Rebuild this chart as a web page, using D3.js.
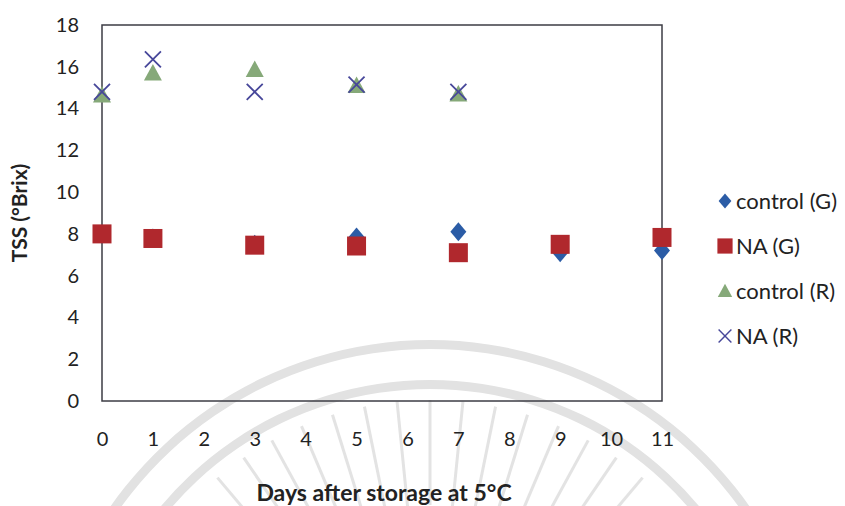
<!DOCTYPE html>
<html>
<head>
<meta charset="utf-8">
<script src="https://cdn.jsdelivr.net/npm/d3@7"></script>
<style>
  body { margin: 0; background: #fff; }
  text { font-family: Lato, "Open Sans", sans-serif; fill: #222; }
</style>
</head>
<body>
<svg id="chart"></svg>
<script>
const days = [0, 1, 3, 5, 7, 9, 11]
const daysR = [0, 1, 3, 5, 7]
const controlG = [8.0, 7.8, 7.5, 7.85, 8.1, 7.1, 7.2]
const naG = [8.0, 7.78, 7.46, 7.42, 7.1, 7.5, 7.83]
const controlR = [14.65, 15.7, 15.87, 15.1, 14.7]
const naR = [14.8, 16.35, 14.8, 15.15, 14.8]
const xTicks = d3.range(0, 12)
const yTicks = d3.range(0, 19, 2)

const series = [
  { name: "control (G)", x: days, y: controlG, shape: "diamond", color: "#2b5ca6" },
  { name: "NA (G)", x: days, y: naG, shape: "square", color: "#b0282d" },
  { name: "control (R)", x: daysR, y: controlR, shape: "triangle", color: "#86a979" },
  { name: "NA (R)", x: daysR, y: naR, shape: "cross", color: "#47479a" }
]

const width = 845, height = 506
const svg = d3.select("#chart").attr("width", width).attr("height", height)

// faint watermark arcs behind the chart
const wm = svg.append("g").attr("fill", "none").attr("stroke", "#e3e3e3")
;[390, 350].forEach(r => {
  wm.append("path")
    .attr("d", d3.arc()({ innerRadius: r - 9, outerRadius: r, startAngle: -1.2, endAngle: 1.2 }))
    .attr("transform", "translate(430,730)")
    .attr("fill", "#e2e2e2").attr("stroke", "none")
})
d3.range(-0.7, 0.71, 0.1).forEach(a => {
  wm.append("line")
    .attr("x1", 430 + Math.sin(a) * 225).attr("y1", 730 - Math.cos(a) * 225)
    .attr("x2", 430 + Math.sin(a) * 330).attr("y2", 730 - Math.cos(a) * 330)
    .attr("stroke-width", 3)
})

const x = d3.scaleLinear().domain([0, 11]).range([102, 662])
const y = d3.scaleLinear().domain([0, 18]).range([401, 25])

// plot box
svg.append("rect")
  .attr("x", x(0)).attr("y", y(18))
  .attr("width", x(11) - x(0)).attr("height", y(0) - y(18))
  .attr("fill", "none").attr("stroke", "#3c3c44").attr("stroke-width", 1.5)

const yAxis = svg.append("g")
  .attr("transform", `translate(${x(0)},0)`)
  .call(d3.axisLeft(y).tickValues(yTicks).tickSize(0).tickPadding(23))
yAxis.select(".domain").remove()
yAxis.selectAll("text").style("font-size", "20px").attr("fill", "#222")

const xAxis = svg.append("g")
  .attr("transform", `translate(0,${y(0)})`)
  .call(d3.axisBottom(x).tickValues(xTicks).tickSize(0).tickPadding(31))
xAxis.select(".domain").remove()
xAxis.selectAll("text").style("font-size", "20px").attr("fill", "#222")

svg.append("text")
  .attr("transform", `translate(27,${(y(0) + y(18)) / 2}) rotate(-90)`)
  .attr("text-anchor", "middle")
  .style("font-size", "21px").style("font-weight", "bold")
  .text("TSS (°Brix)")

svg.append("text")
  .attr("x", 384).attr("y", 501)
  .attr("text-anchor", "middle")
  .style("font-size", "23px").style("font-weight", "bold")
  .text("Days after storage at 5°C")

function drawMarker(g, shape, color) {
  if (shape === "diamond") {
    g.append("path").attr("d", "M0,-9.5L8,0L0,9.5L-8,0Z").attr("fill", color)
  } else if (shape === "square") {
    g.append("rect").attr("x", -9.5).attr("y", -9.5).attr("width", 19).attr("height", 19).attr("fill", color)
  } else if (shape === "triangle") {
    g.append("path").attr("d", "M0,-9L9,7.5L-9,7.5Z").attr("fill", color)
  } else {
    g.append("path").attr("d", "M-8,-8L8,8M-8,8L8,-8")
      .attr("stroke", color).attr("stroke-width", 1.8).attr("fill", "none")
  }
}

series.forEach(s => {
  const grp = svg.append("g")
  s.x.forEach((d, i) => {
    const m = grp.append("g").attr("transform", `translate(${x(d)},${y(s.y[i])})`)
    drawMarker(m, s.shape, s.color)
  })
})

// legend
const legend = svg.append("g").attr("transform", "translate(725,201)")
series.forEach((s, i) => {
  const row = legend.append("g").attr("transform", `translate(0,${i * 45})`)
  const m = row.append("g").attr("transform", "scale(0.8)")
  drawMarker(m, s.shape, s.color)
  row.append("text")
    .attr("x", 11).attr("y", 7.5)
    .style("font-size", "22px")
    .text(s.name)
})
</script>
</body>
</html>
